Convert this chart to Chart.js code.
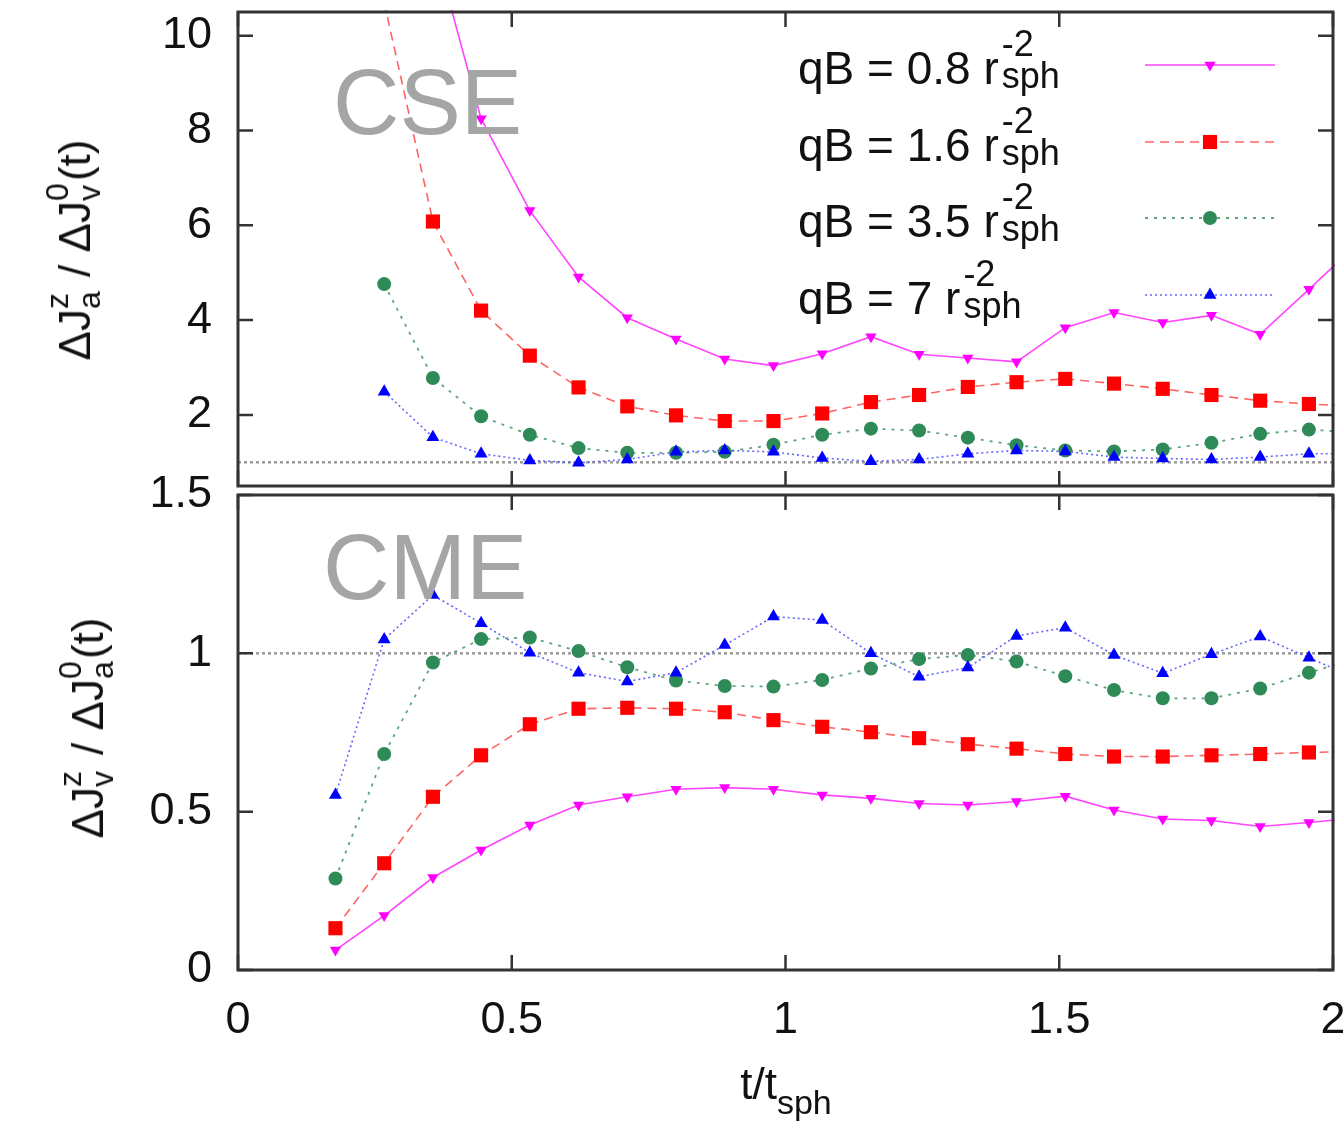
<!DOCTYPE html>
<html>
<head>
<meta charset="utf-8">
<script src="https://cdn.jsdelivr.net/npm/chart.js@4.4.1/dist/chart.umd.min.js"></script>
<style>
  html, body { margin: 0; padding: 0; background: #fff; overflow: hidden; width: 1343px; height: 1123px; }
  body { position: relative; font-family: "Liberation Sans", Arial, sans-serif; color: #111; }
  canvas { position: absolute; left: 0; }
  #cseChart { top: -41px; }
  #cmeChart { top: 440px; }
  .txt { position: absolute; white-space: nowrap; line-height: 1; }
  .ss { display: inline-block; position: relative; height: 1px; }
  .ss span { position: absolute; left: 0; line-height: 1; }
  .leg { font-size: 46px; left: 798px; }
  .leg .ss { margin-left: 3px; }
  .leg .sp, .leg .sb { font-size: 36px; }
  .leg .sp { top: -57px; }
  .leg .sb { top: -25px; }
  .panel { color: #a3a6a4; font-size: 92px; }
  .ytitle { font-size: 44px; transform: translate(-50%, -50%) rotate(-90deg); }
  .ytitle .sp, .ytitle .sb { font-size: 32px; }
  .ytitle .sp { top: -48px; }
  .ytitle .sb { top: -16px; }
  .xtitle { font-size: 44px; transform: translateX(-50%); }
  .xtitle .sub { font-size: 34px; position: relative; top: 15px; }
</style>
</head>
<body>
<canvas id="cseChart" width="1380" height="581"></canvas>
<canvas id="cmeChart" width="1380" height="683"></canvas>

<div class="txt panel" style="left:333px; top:56px;">CSE</div>
<div class="txt panel" style="left:323px; top:521px;">CME</div>

<div class="txt leg" style="top:45px;">qB = 0.8 r<span class="ss" style="width:64px"><span class="sp">-2</span><span class="sb">sph</span></span></div>
<div class="txt leg" style="top:122px;">qB = 1.6 r<span class="ss" style="width:64px"><span class="sp">-2</span><span class="sb">sph</span></span></div>
<div class="txt leg" style="top:198px;">qB = 3.5 r<span class="ss" style="width:64px"><span class="sp">-2</span><span class="sb">sph</span></span></div>
<div class="txt leg" style="top:275px;">qB = 7 r<span class="ss" style="width:64px"><span class="sp">-2</span><span class="sb">sph</span></span></div>

<div class="txt ytitle" style="left:75px; top:250px;">ΔJ<span class="ss" style="width:20px"><span class="sp">z</span><span class="sb">a</span></span> / ΔJ<span class="ss" style="width:20px"><span class="sp">0</span><span class="sb">v</span></span>(t)</div>
<div class="txt ytitle" style="left:88px; top:728px;">ΔJ<span class="ss" style="width:20px"><span class="sp">z</span><span class="sb">v</span></span> / ΔJ<span class="ss" style="width:20px"><span class="sp">0</span><span class="sb">a</span></span>(t)</div>

<div class="txt xtitle" style="left:786px; top:1062px;">t/t<span class="sub">sph</span></div>

<script>
// time axis, t / t_sph
const tValues = [0.178, 0.267, 0.356, 0.444, 0.533, 0.622, 0.711, 0.800, 0.889, 0.978, 1.067,
                 1.156, 1.244, 1.333, 1.422, 1.511, 1.600, 1.689, 1.778, 1.867, 1.956, 2.044];

// upper panel (CSE)
const cseQB08 = [null, null, 12.0, 8.25, 6.31, 4.91, 4.05, 3.60, 3.18, 3.04, 3.29,
                 3.65, 3.28, 3.20, 3.12, 3.84, 4.16, 3.95, 4.10, 3.70, 4.65, 5.60];
const cseQB16 = [null, 10.7, 6.08, 4.20, 3.25, 2.58, 2.18, 1.99, 1.87, 1.87, 2.03,
                 2.27, 2.42, 2.59, 2.69, 2.76, 2.66, 2.55, 2.42, 2.30, 2.23, 2.18];
const cseQB35 = [null, 4.76, 2.78, 1.97, 1.58, 1.30, 1.20, 1.20, 1.22, 1.37, 1.58,
                 1.71, 1.67, 1.52, 1.36, 1.25, 1.23, 1.27, 1.41, 1.60, 1.69, 1.63];
const cseQB7  = [null, 2.49, 1.53, 1.18, 1.04, 0.99, 1.06, 1.22, 1.25, 1.22, 1.09,
                 1.02, 1.06, 1.18, 1.25, 1.23, 1.11, 1.08, 1.06, 1.11, 1.18, 1.18];

// lower panel (CME)
const cmeQB08 = [0.063, 0.172, 0.292, 0.379, 0.458, 0.521, 0.547, 0.571, 0.576, 0.571, 0.553,
                 0.542, 0.526, 0.521, 0.532, 0.549, 0.505, 0.477, 0.472, 0.453, 0.466, 0.480];
const cmeQB16 = [0.132, 0.337, 0.547, 0.678, 0.776, 0.825, 0.828, 0.825, 0.814, 0.789, 0.768,
                 0.751, 0.732, 0.713, 0.699, 0.682, 0.674, 0.674, 0.678, 0.682, 0.687, 0.690];
const cmeQB35 = [0.289, 0.682, 0.971, 1.045, 1.050, 1.007, 0.956, 0.914, 0.897, 0.895, 0.916,
                 0.952, 0.982, 0.995, 0.974, 0.928, 0.884, 0.858, 0.858, 0.889, 0.939, 0.985];
const cmeQB7  = [0.553, 1.044, 1.184, 1.095, 1.002, 0.939, 0.911, 0.939, 1.026, 1.116, 1.105,
                 1.000, 0.926, 0.955, 1.055, 1.081, 0.995, 0.937, 0.997, 1.053, 0.986, 0.920];

const seriesLabels = ["qB = 0.8", "qB = 1.6", "qB = 3.5", "qB = 7"];
const xTicks = [0, 0.5, 1, 1.5, 2];
const xTickLabels = ["0", "0.5", "1", "1.5", "2"];
const cseTicks = [2, 4, 6, 8, 10];
const cseTickLabels = ["2", "4", "6", "8", "10"];
const cmeTicks = [0, 0.5, 1, 1.5];
const cmeTickLabels = ["0", "0.5", "1", "1.5"];
const refLevel = 1;

const styles = [
  { line: "#ff44ff", point: "#ff00ff", dash: [], shape: "triangle", rot: 180, r: 6.5, w: 1.6 },
  { line: "#ff6464", point: "#ff0000", dash: [9, 6], shape: "rect", r: 10, w: 1.6 },
  { line: "#5ea57d", point: "#2e8b57", dash: [3, 6], shape: "circle", r: 7, w: 1.8 },
  { line: "#6666ff", point: "#0000ff", dash: [2, 3], shape: "triangle", rot: 0, r: 7.5, w: 1.6 },
];

const tickFont = { family: "'Liberation Sans', Arial, sans-serif", size: 45 };

function makeSets(list) {
  const sets = list.map((vals, i) => {
    const s = styles[i];
    return {
      label: seriesLabels[i],
      data: tValues.map((t, j) => ({ x: t, y: vals[j] })),
      borderColor: s.line,
      borderWidth: s.w,
      borderDash: s.dash,
      pointStyle: s.shape,
      rotation: s.rot || 0,
      pointRadius: s.r,
      pointBackgroundColor: s.point,
      pointBorderWidth: 0,
      order: 4 - i,
      clip: 2,
    };
  });
  sets.push({
    label: "ref",
    data: [{ x: xTicks[0], y: refLevel }, { x: xTicks[xTicks.length - 1], y: refLevel }],
    borderColor: "#9a9a9a",
    borderWidth: 2.5,
    borderDash: [3, 3],
    pointRadius: 0,
    order: 10,
  });
  return sets;
}

function drawMarker(ctx, s, x, y) {
  ctx.fillStyle = s.point;
  ctx.beginPath();
  if (s.shape === "rect") {
    const h = s.r * Math.SQRT1_2;
    ctx.rect(x - h, y - h, 2 * h, 2 * h);
  } else if (s.shape === "circle") {
    ctx.arc(x, y, s.r, 0, Math.PI * 2);
  } else {
    const d = s.rot ? -1 : 1;
    ctx.moveTo(x, y - d * s.r);
    ctx.lineTo(x + 0.866 * s.r, y + d * 0.5 * s.r);
    ctx.lineTo(x - 0.866 * s.r, y + d * 0.5 * s.r);
    ctx.closePath();
  }
  ctx.fill();
}

// gnuplot-like frame with inward ticks
const framePlugin = {
  id: "frame",
  afterDraw(chart) {
    const { ctx, chartArea: a, scales } = chart;
    const tl = 15;
    ctx.save();
    ctx.strokeStyle = "#333";
    ctx.lineWidth = 2.5;
    ctx.beginPath();
    scales.x.ticks.forEach((t) => {
      const px = scales.x.getPixelForValue(t.value);
      ctx.moveTo(px, a.bottom); ctx.lineTo(px, a.bottom - tl);
      ctx.moveTo(px, a.top); ctx.lineTo(px, a.top + tl);
    });
    scales.y.ticks.forEach((t) => {
      const py = scales.y.getPixelForValue(t.value);
      ctx.moveTo(a.left, py); ctx.lineTo(a.left + tl, py);
      ctx.moveTo(a.right, py); ctx.lineTo(a.right - tl, py);
    });
    ctx.stroke();
    ctx.lineWidth = 3;
    ctx.strokeRect(a.left, a.top, a.right - a.left, a.bottom - a.top);
    ctx.restore();
  },
};

// legend samples (top panel only)
const legendRowsY = [65, 142, 218, 295];
const legendPlugin = {
  id: "legendSamples",
  afterDraw(chart) {
    const ctx = chart.ctx;
    const off = 41;
    ctx.save();
    styles.forEach((s, i) => {
      const y = legendRowsY[i] + off;
      ctx.strokeStyle = s.line;
      ctx.lineWidth = s.w;
      ctx.setLineDash(s.dash);
      ctx.beginPath();
      ctx.moveTo(1145, y);
      ctx.lineTo(1275, y);
      ctx.stroke();
      ctx.setLineDash([]);
      drawMarker(ctx, s, 1210, y);
    });
    ctx.restore();
  },
};

function makeChart(id, sets, yMin, yMax, yTicks, yLabels, opts) {
  return new Chart(document.getElementById(id), {
    type: "line",
    data: { datasets: sets },
    options: {
      responsive: false,
      animation: false,
      layout: { padding: { top: opts.padTop, right: 47, bottom: opts.padBottom, left: 0 } },
      plugins: { legend: { display: false }, tooltip: { enabled: false } },
      elements: { line: { tension: 0 } },
      scales: {
        x: {
          type: "linear",
          min: 0,
          max: 2,
          grid: { display: false, drawTicks: false },
          border: { display: false },
          afterBuildTicks: (s) => { s.ticks = xTicks.map((v) => ({ value: v })); },
          afterFit: (s) => { s.height = opts.xHeight; },
          ticks: {
            display: opts.showX,
            padding: 24,
            color: "#111",
            font: tickFont,
            maxRotation: 0,
            callback: (v) => xTickLabels[xTicks.indexOf(v)],
          },
        },
        y: {
          type: "linear",
          min: yMin,
          max: yMax,
          grid: { display: false, drawTicks: false },
          border: { display: false },
          afterBuildTicks: (s) => { s.ticks = yTicks.map((v) => ({ value: v })); },
          afterFit: (s) => { s.width = 238; },
          ticks: {
            padding: 26,
            color: "#111",
            font: tickFont,
            callback: (v) => yLabels[yTicks.indexOf(v)],
          },
        },
      },
    },
    plugins: opts.legend ? [framePlugin, legendPlugin] : [framePlugin],
  });
}

makeChart("cseChart", makeSets([cseQB08, cseQB16, cseQB35, cseQB7]), 0.5, 10.5, cseTicks, cseTickLabels,
  { padTop: 53, padBottom: 54, xHeight: 0, showX: false, legend: true });
makeChart("cmeChart", makeSets([cmeQB08, cmeQB16, cmeQB35, cmeQB7]), 0, 1.5, cmeTicks, cmeTickLabels,
  { padTop: 55, padBottom: 0, xHeight: 153, showX: true, legend: false });
</script>
</body>
</html>
